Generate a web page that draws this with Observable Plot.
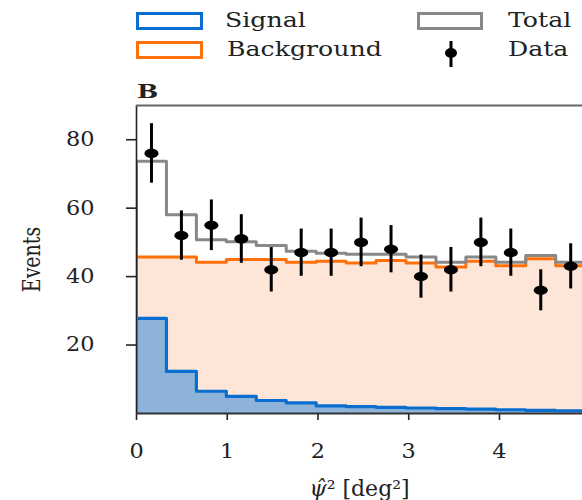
<!DOCTYPE html>
<html>
<head>
<meta charset="utf-8">
<script src="https://cdn.jsdelivr.net/npm/d3@7"></script>
<script src="https://cdn.jsdelivr.net/npm/@observablehq/plot@0.6"></script>
<style>
  html, body { margin: 0; padding: 0; background: #fff; }
  #wrap { position: relative; width: 582px; height: 100px; font-family: "DejaVu Serif", serif; color: #222; }
  .sw { position: absolute; box-sizing: border-box; border-width: 3px; border-style: solid; background: #fff; }
  .lt { position: absolute; font-size: 21px; line-height: 21px; white-space: nowrap; transform: scaleX(1.2); transform-origin: left center; }
  #panel { position: absolute; left: 137px; top: 83px; font-size: 18px; line-height: 18px; font-weight: bold; transform: scaleX(1.4); transform-origin: left center; }
  #chart svg { display: block; }
</style>
</head>
<body>
<div id="wrap">
  <div class="sw" style="left:136px;top:12px;width:67px;height:18px;border-color:#0a6ed1"></div>
  <div class="lt" style="left:225px;top:10px">Signal</div>
  <div class="sw" style="left:136px;top:41px;width:67px;height:18px;border-color:#ff700a"></div>
  <div class="lt" style="left:227px;top:39px">Background</div>
  <div class="sw" style="left:417px;top:12px;width:66px;height:18px;border-color:#888888"></div>
  <div class="lt" style="left:508px;top:10px">Total</div>
  <svg style="position:absolute;left:442px;top:40px" width="18" height="28">
    <line x1="9" x2="9" y1="1" y2="27" stroke="#000" stroke-width="3"></line>
    <ellipse cx="9" cy="13" rx="6" ry="5" fill="#000"></ellipse>
  </svg>
  <div class="lt" style="left:508px;top:39px">Data</div>
  <div id="panel">B</div>
</div>
<div id="chart"></div>
<script>
// ---- data ----
const binEdges = [0, 0.33, 0.66, 0.99, 1.32, 1.65, 1.98, 2.31, 2.64, 2.97, 3.30, 3.63, 3.96, 4.29, 4.62, 4.95];
const signal = [27.8, 12.3, 6.5, 5.0, 3.8, 3.1, 2.2, 2.0, 1.8, 1.6, 1.4, 1.3, 1.1, 0.9, 0.8];
const background = [45.7, 45.7, 44.2, 45.0, 45.0, 44.2, 44.5, 44.0, 44.7, 44.0, 42.8, 44.5, 43.2, 45.2, 43.2];
const total = [73.7, 58.1, 50.8, 50.2, 49.1, 47.4, 46.8, 46.5, 46.5, 45.7, 44.2, 45.7, 44.2, 46.2, 44.2];
const dataCounts = [76, 52, 55, 51, 42, 47, 47, 50, 48, 40, 42, 50, 47, 36, 43];
const dataErrors = [8.7, 7.2, 7.4, 7.1, 6.5, 6.9, 6.9, 7.1, 6.9, 6.3, 6.5, 7.1, 6.9, 6.0, 6.6];
const xTicks = [0, 1, 2, 3, 4];
const yTicks = [20, 40, 60, 80];

// ---- build step outlines from the bins ----
function stepPoints(values) {
  const pts = [{x: binEdges[0], y: 0}];
  values.forEach((v, i) => pts.push({x: binEdges[i], y: v}));
  pts.push({x: binEdges[values.length], y: values[values.length - 1]});
  pts.push({x: binEdges[values.length], y: 0});
  return pts;
}
const sigPts = stepPoints(signal);
const bkgPts = stepPoints(background);
const totPts = stepPoints(total);
const points = dataCounts.map((n, i) => ({
  x: (binEdges[i] + binEdges[i + 1]) / 2,
  y: n,
  lo: n - dataErrors[i],
  hi: n + dataErrors[i]
}));

const ellipse = {
  draw(ctx) {
    const rx = 7, ry = 4.6, k = 0.5523, kx = rx * k, ky = ry * k;
    ctx.moveTo(rx, 0);
    ctx.bezierCurveTo(rx, ky, kx, ry, 0, ry);
    ctx.bezierCurveTo(-kx, ry, -rx, ky, -rx, 0);
    ctx.bezierCurveTo(-rx, -ky, -kx, -ry, 0, -ry);
    ctx.bezierCurveTo(kx, -ry, rx, -ky, rx, 0);
    ctx.closePath();
  }
};

const chart = Plot.plot({
  width: 582,
  height: 400,
  marginLeft: 136,
  marginRight: 0,
  marginTop: 5,
  marginBottom: 87,
  style: {fontFamily: "DejaVu Serif, serif", fontSize: "20px", color: "#222", background: "transparent"},
  x: {domain: [0, 4.915], ticks: xTicks, tickFormat: d3.format("d"), tickSize: 7, tickPadding: 23, label: "ψ̂² [deg²]", labelAnchor: "center", labelArrow: "none", labelOffset: 82},
  y: {domain: [0, 90], ticks: yTicks, tickFormat: d3.format("d"), tickSize: 10, tickPadding: 32, label: "Events", labelAnchor: "center", labelArrow: "none", labelOffset: 114},
  marks: [
    Plot.areaY(bkgPts, {x: "x", y: "y", curve: "step-after", fill: "#fde6d8", clip: true}),
    Plot.areaY(sigPts, {x: "x", y: "y", curve: "step-after", fill: "#8db4d8", clip: true}),
    Plot.line(bkgPts, {x: "x", y: "y", curve: "step-after", stroke: "#ff700a", strokeWidth: 3, clip: true}),
    Plot.line(sigPts, {x: "x", y: "y", curve: "step-after", stroke: "#0a6ed1", strokeWidth: 3.2, clip: true}),
    Plot.line(totPts, {x: "x", y: "y", curve: "step-after", stroke: "#888888", strokeWidth: 3, clip: true}),
    Plot.ruleY([0], {stroke: "#333", strokeWidth: 1.8}),
    Plot.ruleX([0], {stroke: "#222", strokeWidth: 1.6}),
    Plot.ruleY([90], {stroke: "#666", strokeWidth: 2}),
    Plot.ruleX(points, {x: "x", y1: "lo", y2: "hi", stroke: "#000", strokeWidth: 3}),
    Plot.dot(points, {x: "x", y: "y", symbol: ellipse, fill: "#000", stroke: "none"})
  ]
});
document.getElementById("chart").appendChild(chart);

// typographic tweaks: italic psi-hat in the x label, widen tick labels
const svg = d3.select(chart);
const xl = svg.select('g[aria-label="x-axis label"] text');
xl.style("font-size", "22px").text(null);
xl.append("tspan").attr("font-style", "italic").text("ψ̂");
xl.append("tspan").text("² [deg²]");
const yl = svg.select('g[aria-label="y-axis label"] text');
yl.style("font-size", "19px").text("Events");
const ylt = yl.attr("transform");
if (ylt && ylt.includes("rotate(-90)")) yl.attr("transform", ylt.replace("rotate(-90)", "scale(1.3,1) rotate(-90)"));
svg.selectAll('g[aria-label="x-axis tick label"] text, g[aria-label="y-axis tick label"] text').each(function () {
  const t = this.getAttribute("transform") || "";
  this.setAttribute("transform", t + " scale(1.12,1)");
});
svg.selectAll('g[aria-label="x-axis tick"] path, g[aria-label="y-axis tick"] path').attr("stroke", "#222").attr("stroke-width", 1.6);
</script>
</body>
</html>
